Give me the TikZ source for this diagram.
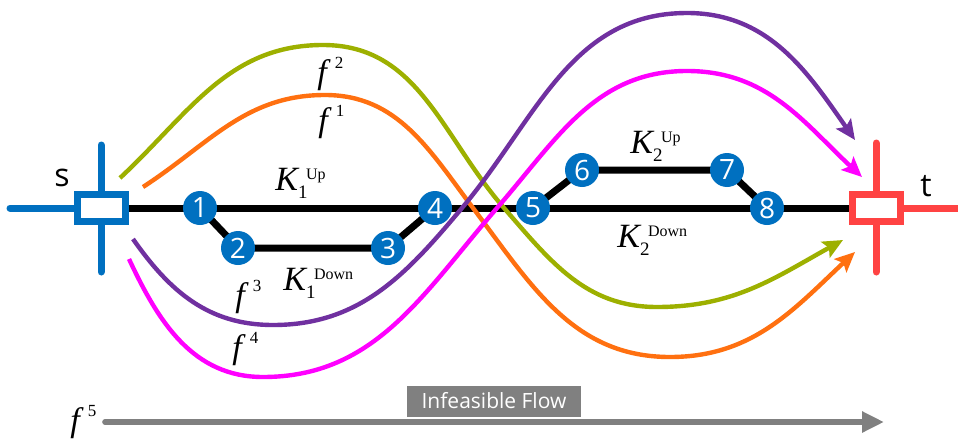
\documentclass[tikz,border=0pt]{standalone}
\usepackage{fontspec}
\setmainfont{Liberation Serif}
\newfontfamily\osans{Open Sans}
\usetikzlibrary{arrows.meta}
\definecolor{pblue}{HTML}{0070C0}
\definecolor{pred}{HTML}{FF4343}
\definecolor{polive}{HTML}{9DB000}
\definecolor{porange}{HTML}{FF7010}
\definecolor{ppurple}{HTML}{7030A0}
\definecolor{pmag}{HTML}{FF00FF}
\definecolor{pgray}{HTML}{808080}
\newcommand{\Klab}[2]{{\itshape K}\rlap{\raisebox{-4pt}{\fontsize{9.5}{9.5}\selectfont #1}}\kern4pt\raisebox{5.5pt}{\fontsize{8}{8}\selectfont #2}}
\newcommand{\flab}[1]{$\mbox{\itshape f}^{\mbox{\kern4pt\fontsize{8.5}{8.5}\selectfont #1}}$}
\tikzset{
  flow/.style={line width=2.2pt, -{Stealth[length=10pt,width=9pt,inset=2pt]}},
  num/.style={circle, fill=pblue, minimum size=17pt, inner sep=0pt, text=white, font=\osans\fontsize{14}{14}\selectfont},
  trk/.style={line width=3.5pt, black},
  term/.style={draw, line width=3.5pt, minimum width=24pt, minimum height=13.5pt, inner sep=0pt, fill=white},
  arm/.style={line width=3.5pt, line cap=round},
  mlab/.style={inner sep=0pt, anchor=base west, font=\fontsize{17}{17}\selectfont},
  slab/.style={inner sep=0pt, font=\osans\fontsize{16}{16}\selectfont}
}
\begin{document}
\begin{tikzpicture}[x=0.5pt,y=0.5pt]
\useasboundingbox (0,0) rectangle (958,-439);
% terminals geometry
\coordinate (sc) at (101,-208);
\coordinate (tc) at (876,-208);
\coordinate (sl) at (10,-208);
\coordinate (stop) at (101,-145);
\coordinate (sbot) at (101,-272);
\coordinate (tr) at (958,-208);
\coordinate (ttop) at (876,-143);
\coordinate (tbot) at (876,-272);
\draw[arm, pblue] (stop) -- (sbot);
\draw[arm, pred] (ttop) -- (tbot);
% station positions
\coordinate (p1) at (200,-208);
\coordinate (p2) at (238,-248);
\coordinate (p3) at (388,-248);
\coordinate (p4) at (435,-208);
\coordinate (p5) at (533,-208);
\coordinate (p6) at (582,-170);
\coordinate (p7) at (727,-170);
\coordinate (p8) at (767,-208);
% terminal boxes
\node[term, draw=pblue] (s) at (sc) {};
\node[term, draw=pred] (t) at (tc) {};
\draw[arm, pblue] (sl) -- (s.west);
\draw[line width=3.5pt, pred] (t.east) -- (tr);
% tracks
\draw[trk] (s.east) -- (t.west);
\draw[trk] (p1) -- (p2) -- (p3) -- (p4);
\draw[trk] (p5) -- (p6) -- (p7) -- (p8);
% flows
\coordinate (a0) at (120,-178); \coordinate (a1) at (323,-45); \coordinate (ax) at (504,-208); \coordinate (a2) at (657,-307); \coordinate (a3) at (843,-240);
\coordinate (b0) at (143,-187); \coordinate (b1) at (325,-95); \coordinate (bx) at (473,-208); \coordinate (b2) at (670,-357); \coordinate (b3) at (855,-252);
\coordinate (c0) at (133,-239); \coordinate (c1) at (273,-325); \coordinate (cx) at (462,-208); \coordinate (c2) at (687,-13); \coordinate (c3) at (855,-140);
\coordinate (d0) at (129,-259); \coordinate (d1) at (263,-377); \coordinate (dx) at (497,-208); \coordinate (d2) at (687,-71); \coordinate (d3) at (862,-177);
\draw[flow, polive] (a0) to[out=43,in=180] (a1) to[out=0,in=131] (ax) to[out=-49,in=180] (a2) to[out=0,in=209] (a3);
\draw[flow, porange] (b0) to[out=33,in=180] (b1) to[out=0,in=127] (bx) to[out=-53,in=180] (b2) to[out=0,in=223] (b3);
\draw[flow, ppurple] (c0) to[out=-55,in=180] (c1) to[out=0,in=230] (cx) to[out=50,in=180] (c2) to[out=0,in=125] (c3);
\draw[flow, pmag] (d0) to[out=-65,in=180] (d1) to[out=0,in=229] (dx) to[out=49,in=180] (d2) to[out=0,in=137] (d3);
% stations
\node[num] (n1) at (p1) {1};
\node[num] (n2) at (p2) {2};
\node[num] (n3) at (p3) {3};
\node[num] (n4) at (p4) {4};
\node[num] (n5) at (p5) {5};
\node[num] (n6) at (p6) {6};
\node[num] (n7) at (p7) {7};
\node[num] (n8) at (p8) {8};
% labels
\node[slab] (slabel) at (62,-178) {s};
\node[slab] (tlabel) at (926,-186) {t};
\node[mlab] (k1u) at (275,-190) {\Klab{1}{Up}};
\node[mlab] (k1d) at (283,-290) {\Klab{1}{Down}};
\node[mlab] (k2u) at (630,-153) {\Klab{2}{Up}};
\node[mlab] (k2d) at (617,-247) {\Klab{2}{Down}};
\node[mlab] (f2) at (317,-83) {\flab{2}};
\node[mlab] (f1) at (318,-131) {\flab{1}};
\node[mlab] (f3) at (235,-306) {\flab{3}};
\node[mlab] (f4) at (232,-358) {\flab{4}};
\node[mlab] (f5) at (70,-431) {\flab{5}};
% infeasible flow
\coordinate (g0) at (105,-422);
\coordinate (g1) at (884,-422);
\draw[line width=2.8pt, pgray, line cap=round, -{Triangle[length=11pt,width=10pt]}] (g0) -- (g1);
\node[fill=pgray, text=white, font=\osans\fontsize{10.5}{10.5}\selectfont, minimum width=87pt, minimum height=15.5pt, inner sep=0pt] (inf) at (494,-401) {Infeasible Flow};
\end{tikzpicture}
\end{document}
